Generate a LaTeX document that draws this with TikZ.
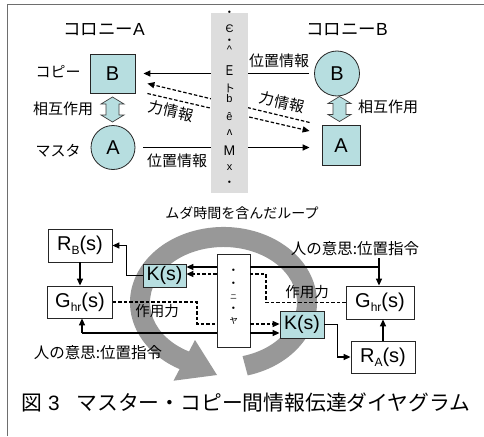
\documentclass[tikz,border=0pt]{standalone}
\usepackage{fontspec}
\setmainfont{Liberation Sans}
\newfontfamily\jp{Noto Sans CJK JP}
\usetikzlibrary{arrows.meta,calc}
\definecolor{teal1}{RGB}{183,222,224}
\definecolor{bargray}{RGB}{221,221,221}
\definecolor{loopgray}{RGB}{152,152,152}
\definecolor{framegray}{RGB}{110,110,110}
\newcommand\mysub[1]{\raisebox{-4pt}{\fontsize{12}{12}\selectfont #1}}
\begin{document}
\begin{tikzpicture}[x=1pt,y=-1pt,
  jpa/.style={font=\jp\fontsize{15}{15}\selectfont, inner sep=0pt},
  jpb/.style={font=\jp\fontsize{14.5}{14.5}\selectfont, inner sep=0pt},
  ttl/.style={font=\fontsize{17.5}{17.5}\selectfont, inner sep=0pt},
  tbox/.style={draw=black!85, fill=teal1, line width=0.8pt, inner sep=0pt, font=\fontsize{20}{20}\selectfont},
  wbox/.style={draw=black!85, fill=white, line width=0.8pt, inner sep=0pt, font=\fontsize{20}{20}\selectfont},
  tcirc/.style={circle, draw=black!85, fill=teal1, line width=0.8pt, inner sep=0pt, font=\fontsize{20}{20}\selectfont},
  conn/.style={line width=1.4pt, -{Triangle[length=7pt,width=6pt]}},
  plain/.style={line width=1.4pt},
  dconn/.style={line width=1.2pt, dash pattern=on 3.5pt off 2pt, -{Triangle[length=7pt,width=6pt]}},
  dline/.style={line width=1.2pt, dash pattern=on 3.5pt off 2pt},
  glyph/.style={font=\fontsize{11}{11}\selectfont, inner sep=0pt},
  dotg/.style={font=\fontsize{5}{5}\selectfont, inner sep=0pt},
  dbl/.style={fill=teal1, draw=black!75, line width=0.7pt},
]
\useasboundingbox (0,0) rectangle (484,436);
\fill[white] (0,0) rectangle (484,436);
\draw[framegray, line width=1.5pt] (7.5,436) -- (7.5,4.5) -- (484,4.5);

% ---------- top part ----------
\node[ttl] (colA) at (104,30) {{\jp コロニー}A};
\node[ttl] (colB) at (347,30) {{\jp コロニー}B};

\node[tbox, minimum width=45pt, minimum height=39pt] (copyB) at (112.5,73.5) {B};
\node[tcirc, minimum size=44pt] (masA) at (113,147.5) {A};
\node[tcirc, minimum size=45pt] (masB) at (337,73.5) {B};
\node[tbox, minimum width=38pt, minimum height=40pt] (copyA) at (341,145.5) {A};

\node[jpa] (lcopy) at (58,72) {コピー};
\node[jpa] (lintA) at (63,109) {相互作用};
\node[jpa] (lmas) at (58,151) {マスタ};
\node[jpa] (lintB) at (388,107) {相互作用};
\node[jpa] (lposA) at (177,161) {位置情報};
\node[jpa] (lposB) at (279,61) {位置情報};
\node[jpa, rotate=-13] (lforA) at (171,111) {力情報};
\node[jpa, rotate=-13] (lforB) at (282,102.5) {力情報};

% hollow double arrows
\coordinate (dA) at (112.5,109.5);
\coordinate (dB) at (339.5,109);
\foreach \c in {dA,dB}{
  \filldraw[dbl] (\c) +(0,-12.5) -- +(11.5,-5.5) -- +(6.5,-5.5) -- +(6.5,5.5) -- +(11.5,5.5)
    -- +(0,12.5) -- +(-11.5,5.5) -- +(-6.5,5.5) -- +(-6.5,-5.5) -- +(-11.5,-5.5) -- cycle;
}

% connectors
\draw[conn, shorten <=5pt, shorten >=8pt] (masB.west) -- (copyB.east);
\draw[conn, shorten <=8pt, shorten >=12pt] (masA.east) -- (masA.east -| copyA.west);
\coordinate (d1s) at ($(copyA.west)+(-12,-23)$);
\coordinate (d1e) at ($(copyB.east)+(12,10)$);
\coordinate (d2s) at ($(copyB.east)+(12,20)$);
\coordinate (d2e) at ($(copyA.west)+(-12,-14.5)$);
\draw[dconn] (d1s) -- (d1e);
\draw[dconn] (d2s) -- (d2e);

% network bar
\node[fill=bargray, minimum width=37pt, minimum height=180pt, inner sep=0pt] (net) at (229.5,103) {};
\node[dotg] (g1) at (229.5,12.5) {$\bullet$};
\node[glyph] (g2) at (229.5,28.5) {Є};
\node[dotg] (g3) at (229.5,40.5) {$\bullet$};
\node[glyph] (g4) at (229.5,50) {\^{}};
\node[glyph, yscale=1.3] (g5) at (229.5,71) {E};
\node[glyph] (g6) at (229.5,88) {\jp ト};
\node[glyph] (g7) at (229.5,99) {b};
\node[glyph] (g8) at (229.5,117) {ê};
\node[glyph] (g9) at (229.5,133) {ʌ};
\node[glyph, font=\fontsize{14}{14}\selectfont] (g10) at (229.5,151) {M};
\node[glyph] (g11) at (229.5,168) {x};
\node[dotg] (g12) at (229.5,182) {$\bullet$};

% ---------- bottom part ----------
\fill[loopgray] (247.7,375.4) arc[start angle=75, end angle=-242, x radius=93.5, y radius=75.5]
  -- (173.5,380.7) -- (217,375) -- (195,340) -- (189,351.5)
  arc[start angle=-242, end angle=75, x radius=73.5, y radius=55.5] -- cycle;

\node[jpb, font=\jp\fontsize{14}{14}\selectfont] (lloop) at (242,213) {ムダ時間を含んだループ};

\node[wbox, minimum width=64pt, minimum height=33pt] (RB) at (80,245.5) {R\mysub{B}(s)};
\node[wbox, minimum width=65pt, minimum height=32pt] (Gl) at (80,302) {G\mysub{hr}(s)};
\node[tbox, minimum width=43pt, minimum height=23pt, font=\fontsize{19.5}{19.5}\selectfont] (Kl) at (164.5,275.5) {K(s)};
\node[wbox, minimum width=33pt, minimum height=93pt] (Mid) at (233.5,300.5) {};
\node[wbox, minimum width=68pt, minimum height=33pt] (Gr) at (380,302.5) {G\mysub{hr}(s)};
\node[tbox, minimum width=44pt, minimum height=27pt, font=\fontsize{19.5}{19.5}\selectfont] (Kr) at (302,324.5) {K(s)};
\node[wbox, minimum width=64pt, minimum height=32pt] (RA) at (383,357) {R\mysub{A}(s)};

\node[dotg] (m1) at (233.5,270) {$\bullet$};
\node[dotg] (m2) at (233.5,283) {$\bullet$};
\node[glyph, font=\jp\fontsize{7}{7}\selectfont] (m3) at (233.5,297) {ニ};
\node[dotg] (m4) at (233.5,308) {$\bullet$};
\node[glyph, font=\jp\fontsize{10}{10}\selectfont] (m5) at (233.5,321) {ャ};

\node[jpb] (lactL) at (157,311) {作用力};
\node[jpb] (lactR) at (307,292.5) {作用力};
\node[jpb, font=\jp\fontsize{15.5}{15.5}\selectfont] (lwillL) at (98,352.5) {人の意思:位置指令};
\node[jpb, font=\jp\fontsize{15.5}{15.5}\selectfont] (lwillR) at (355,249) {人の意思:位置指令};

\draw[conn] (RB.south) -- (Gl.north);
\draw[conn] (Kl.west) -- ++(-16,0) |- (RB.east);

\coordinate (jR) at (379,267);
\coordinate (vR) at (379,258);
\draw[plain] (jR) -- (jR -| Mid.east);
\draw[conn] (jR -| Mid.west) -- (jR -| Kl.east);
\draw[conn] (vR) -- (vR |- Gr.north);

\coordinate (dR) at (266,274);
\draw[dline] (Gr.west) -| (dR) -- (dR -| Mid.east);
\draw[dconn] (dR -| Mid.west) -- (dR -| Kl.east);

\coordinate (dL) at (197,324);
\draw[dline] (Gl.east) -| (dL) -- (dL -| Mid.west);
\draw[dconn] (dL -| Mid.east) -- (dL -| Kr.west);

\coordinate (jL) at (82,333);
\draw[plain] (jL) -- (jL -| Mid.west);
\draw[conn] (jL -| Mid.east) -- (jL -| Kr.west);
\draw[conn] (jL) -- (jL |- Gl.south);

\draw[conn] (Kr.east) -- ++(13,0) |- (RA.west);
\draw[conn] (RA.north) -- (RA.north |- Gr.south);

\node[inner sep=0pt, anchor=west, font=\fontsize{20.8}{20.8}\selectfont] (cap) at (21,403)
  {{\jp 図}\hspace{6pt}3\hspace{17pt}{\jp マスター・コピー間情報伝達ダイヤグラム}};
\end{tikzpicture}
\end{document}
